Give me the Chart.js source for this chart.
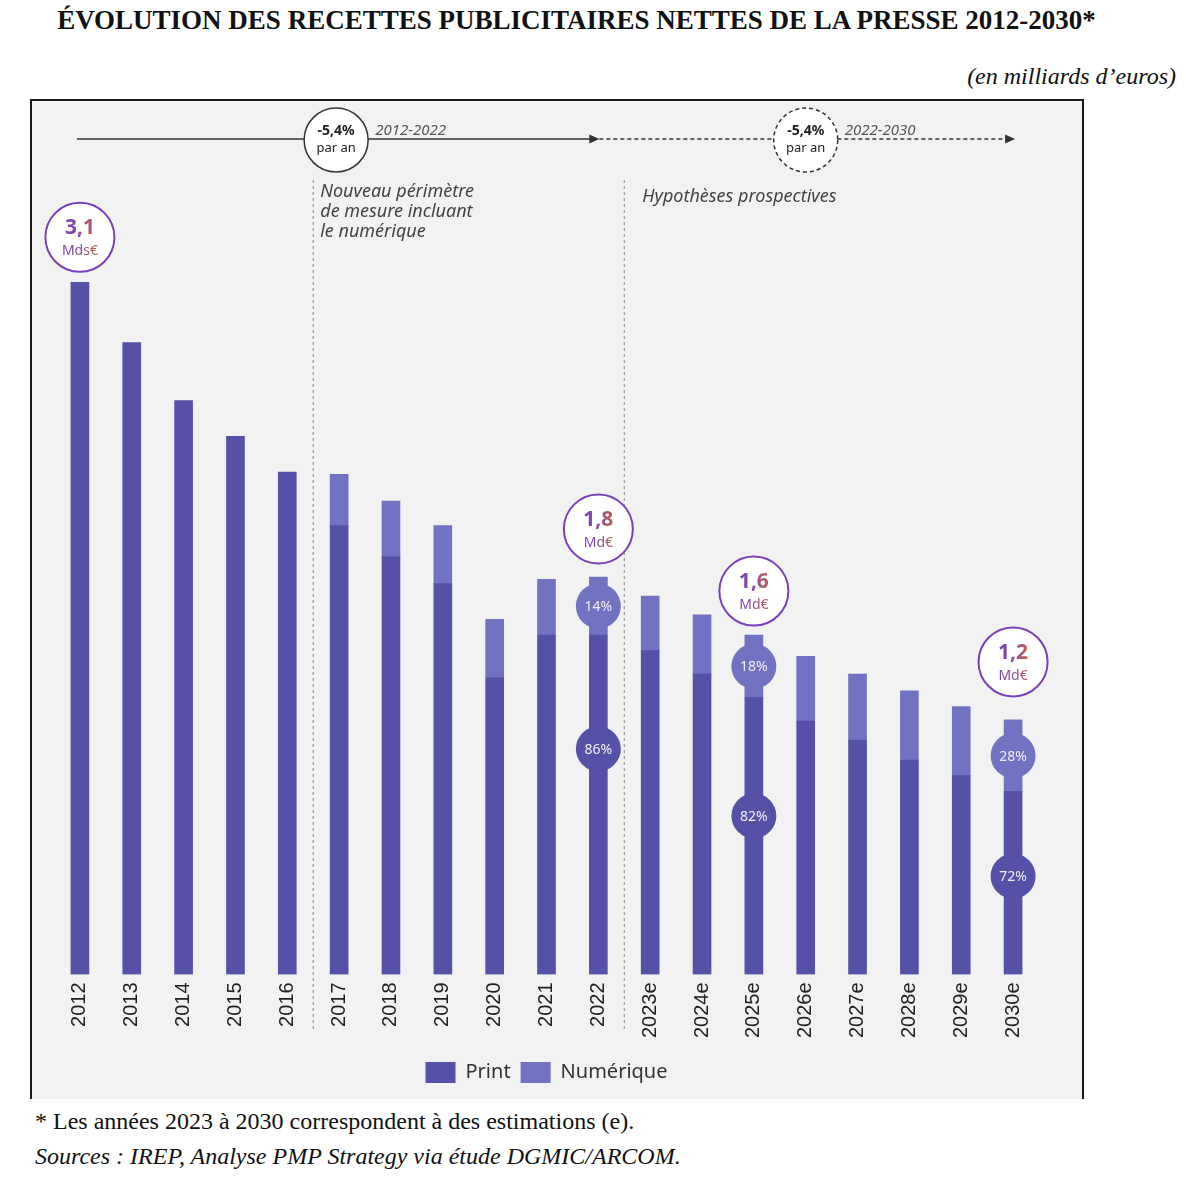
<!DOCTYPE html>
<html lang="fr">
<head>
<meta charset="UTF-8">
<title>Évolution des recettes publicitaires nettes de la presse 2012-2030</title>
<script src="https://cdn.jsdelivr.net/npm/chart.js"></script>
<style>
  body { margin: 0; background: #fff; width: 1200px; height: 1179px; position: relative; font-family: "Liberation Serif", serif; color: #111; }
  h1 { position: absolute; left: 0; width: 1153px; top: 5px; margin: 0; text-align: center; font-size: 27px; font-weight: bold; }
  .unit { position: absolute; right: 24px; top: 63px; font-style: italic; font-size: 24px; }
  .frame { position: absolute; left: 30px; top: 99px; width: 1050px; height: 998px; border: 2px solid #1a1a1a; border-bottom: none; background: #f2f2f2; }
  .note { position: absolute; left: 35px; font-size: 24px; margin: 0; }
</style>
</head>
<body>
<h1>ÉVOLUTION DES RECETTES PUBLICITAIRES NETTES DE LA PRESSE 2012-2030*</h1>
<div class="unit">(en milliards d’euros)</div>
<div class="frame"><canvas id="chart"></canvas></div>
<p class="note" style="top:1108px">* Les années 2023 à 2030 correspondent à des estimations (e).</p>
<p class="note" style="top:1143px; font-style:italic">Sources : IREP, Analyse PMP Strategy via étude DGMIC/ARCOM.</p>

<script>
const years = ['2012', '2013', '2014', '2015', '2016', '2017', '2018', '2019', '2020', '2021', '2022',
               '2023e', '2024e', '2025e', '2026e', '2027e', '2028e', '2029e', '2030e'];
const print = [3.10, 2.83, 2.57, 2.41, 2.25, 2.01, 1.87, 1.75, 1.33, 1.52, 1.52,
               1.45, 1.345, 1.24, 1.135, 1.05, 0.96, 0.89, 0.82];
const numerique = [null, null, null, null, null, 0.23, 0.25, 0.26, 0.26, 0.25, 0.26,
                   0.245, 0.265, 0.28, 0.29, 0.295, 0.31, 0.31, 0.32];

// bubbles with the total, placed above some bars
const totals = [
    { i: 0, big: '3,1', small: 'Mds€', lift: 45 },
    { i: 10, big: '1,8', small: 'Md€', lift: 48 },
    { i: 13, big: '1,6', small: 'Md€', lift: 44 },
    { i: 18, big: '1,2', small: 'Md€', lift: 58 }
];
// split print / numérique, print bubble sits at a given value
const shares = [
    { i: 10, num: '14%', prt: '86%', at: 1.01 },
    { i: 13, num: '18%', prt: '82%', at: 0.71 },
    { i: 18, num: '28%', prt: '72%', at: 0.44 }
];

const printColor = '#5551a6';
const numColor = '#7272c3';
const uiFont = '"Noto Sans", sans-serif';

function gradFill(ctx, cx) {
    const g = ctx.createLinearGradient(cx - 20, 0, cx + 20, 0);
    g.addColorStop(0, '#6a3db5');
    g.addColorStop(0.45, '#8a4aa6');
    g.addColorStop(1, '#cf6635');
    return g;
}

function arrowHead(ctx, x, y) {
    ctx.beginPath();
    ctx.moveTo(x, y);
    ctx.lineTo(x - 10, y - 4.5);
    ctx.lineTo(x - 10, y + 4.5);
    ctx.closePath();
    ctx.fill();
}

function rateBubble(ctx, cx, cy, dashed, period) {
    ctx.save();
    ctx.beginPath();
    ctx.arc(cx, cy, 32, 0, Math.PI * 2);
    ctx.fillStyle = '#fff';
    ctx.fill();
    ctx.setLineDash(dashed ? [4, 3] : []);
    ctx.lineWidth = 1.5;
    ctx.strokeStyle = '#333';
    ctx.stroke();
    ctx.setLineDash([]);
    ctx.fillStyle = '#222';
    ctx.textAlign = 'center';
    ctx.textBaseline = 'middle';
    ctx.font = 'bold 14px ' + uiFont;
    ctx.fillText('-5,4%', cx, cy - 9);
    ctx.font = '13px ' + uiFont;
    ctx.fillText('par an', cx, cy + 8);
    ctx.font = 'italic 15px ' + uiFont;
    ctx.fillStyle = '#555';
    ctx.textAlign = 'left';
    ctx.fillText(period, cx + 39, cy - 9);
    ctx.restore();
}

const decor = {
    id: 'decor',
    beforeDatasetsDraw(chart) {
        const { ctx, scales: { x } } = chart;
        ctx.save();
        ctx.strokeStyle = '#8a8a8a';
        ctx.lineWidth = 1;
        ctx.setLineDash([3, 3]);
        const splits = [(x.getPixelForValue(4) + x.getPixelForValue(5)) / 2,
                        (x.getPixelForValue(10) + x.getPixelForValue(11)) / 2];
        splits.forEach(px => {
            ctx.beginPath();
            ctx.moveTo(px, 79);
            ctx.lineTo(px, 929);
            ctx.stroke();
        });
        ctx.setLineDash([]);

        ctx.fillStyle = '#444';
        ctx.font = 'italic 18px ' + uiFont;
        ctx.textBaseline = 'middle';
        ['Nouveau périmètre', 'de mesure incluant', 'le numérique'].forEach((t, k) => {
            ctx.fillText(t, splits[0] + 7, 91 + k * 20);
        });
        ctx.fillText('Hypothèses prospectives', splits[1] + 18, 96);

        // period arrows
        const yA = 38;
        const x0 = x.getPixelForValue(0) - 3;
        const x1 = x.getPixelForValue(10) + 1;
        const x2 = x.getPixelForValue(18) + 2;
        ctx.strokeStyle = '#333';
        ctx.fillStyle = '#333';
        ctx.lineWidth = 1.3;
        ctx.beginPath();
        ctx.moveTo(x0, yA);
        ctx.lineTo(x1 - 8, yA);
        ctx.stroke();
        arrowHead(ctx, x1, yA);
        ctx.setLineDash([4, 3]);
        ctx.beginPath();
        ctx.moveTo(x1, yA);
        ctx.lineTo(x2 - 8, yA);
        ctx.stroke();
        ctx.setLineDash([]);
        arrowHead(ctx, x2, yA);
        ctx.restore();

        rateBubble(ctx, x.getPixelForValue(5) - 3, yA + 1, false, '2012-2022');
        rateBubble(ctx, x.getPixelForValue(14), yA + 1, true, '2022-2030');
    },
    afterDatasetsDraw(chart) {
        const { ctx, scales: { x, y } } = chart;
        ctx.save();
        ctx.textAlign = 'center';
        ctx.textBaseline = 'middle';

        shares.forEach(s => {
            const cx = x.getPixelForValue(s.i);
            const p = print[s.i], n = numerique[s.i];
            const spots = [[y.getPixelForValue(p + n / 2), numColor, s.num],
                           [y.getPixelForValue(s.at), printColor, s.prt]];
            spots.forEach(([cy, col, txt]) => {
                ctx.beginPath();
                ctx.arc(cx, cy, 22.5, 0, Math.PI * 2);
                ctx.fillStyle = col;
                ctx.fill();
                ctx.fillStyle = '#eeeef8';
                ctx.font = '14px ' + uiFont;
                ctx.fillText(txt, cx, cy + 1);
            });
        });

        totals.forEach(t => {
            const cx = x.getPixelForValue(t.i);
            const top = y.getPixelForValue(print[t.i] + (numerique[t.i] || 0));
            const cy = top - t.lift;
            ctx.beginPath();
            ctx.arc(cx, cy, 34.5, 0, Math.PI * 2);
            ctx.fillStyle = '#fff';
            ctx.fill();
            ctx.lineWidth = 2;
            ctx.strokeStyle = '#7b3fbd';
            ctx.stroke();
            ctx.fillStyle = gradFill(ctx, cx);
            ctx.font = 'bold 21px ' + uiFont;
            ctx.fillText(t.big, cx, cy - 9);
            ctx.font = '14px ' + uiFont;
            ctx.fillText(t.small, cx, cy + 14);
        });
        ctx.restore();
    }
};

new Chart(document.getElementById('chart'), {
    type: 'bar',
    data: {
        labels: years,
        datasets: [
            { label: 'Print', data: print, backgroundColor: printColor, barThickness: 18 },
            { label: 'Numérique', data: numerique, backgroundColor: numColor, barThickness: 18 }
        ]
    },
    options: {
        responsive: true,
        maintainAspectRatio: false,
        animation: false,
        layout: { padding: { left: 22, right: 43, top: 92, bottom: 6 } },
        scales: {
            x: {
                stacked: true,
                grid: { display: false, drawTicks: false },
                border: { display: false },
                afterFit: scale => { scale.height += 6; },
                ticks: {
                    minRotation: 90,
                    maxRotation: 90,
                    padding: 8,
                    color: '#222',
                    font: { family: '"Liberation Sans", Arial, sans-serif', size: 20 }
                }
            },
            y: {
                stacked: true,
                display: false,
                min: 0,
                max: 3.5
            }
        },
        plugins: {
            legend: {
                position: 'bottom',
                labels: {
                    boxWidth: 30,
                    boxHeight: 21,
                    padding: 10,
                    color: '#333',
                    font: { family: uiFont, size: 20 }
                }
            },
            tooltip: { enabled: false }
        }
    },
    plugins: [decor]
});
</script>
</body>
</html>
